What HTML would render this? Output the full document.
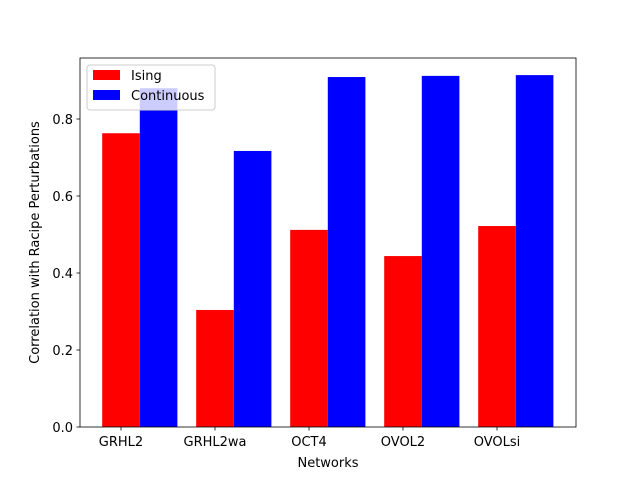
<!DOCTYPE html>
<html><head><meta charset="utf-8"><style>
body{margin:0;background:#fff;}
svg{font-family:"DejaVu Sans","Liberation Sans",sans-serif;}
</style></head><body>
<svg id="chart" width="640" height="480">
<rect x="0" y="0" width="640" height="480" fill="#fff"/>
<g id="bars"></g>
<g id="axes"></g>
</svg>
<script>
const categories=["GRHL2","GRHL2wa","OCT4","OVOL2","OVOLsi"];
const isingValues=[0.763,0.304,0.512,0.444,0.522];
const continuousValues=[0.880,0.717,0.909,0.912,0.914];
const yTicks=[0,0.2,0.4,0.6,0.8];
const yTickLabels=["0.0","0.2","0.4","0.6","0.8"];
const NS="http://www.w3.org/2000/svg";
const L=80,R=576,T=58,B=427;
const xs=v=>121+v*94;
const ys=v=>427-v*385;
function mk(tag,attrs,parent,text){const e=document.createElementNS(NS,tag);for(const k in attrs)e.setAttribute(k,attrs[k]);if(text!==undefined)e.textContent=text;parent.appendChild(e);return e;}
const bars=document.getElementById('bars');
const axes=document.getElementById('axes');
categories.forEach((c,i)=>{
  const w=xs(0.4)-xs(0);
  const r=mk('rect',{x:xs(i-0.2),y:ys(isingValues[i]),width:w,height:ys(0)-ys(isingValues[i]),fill:'#ff0000'},bars);
  
  
  const b=mk('rect',{x:xs(i+0.2),y:ys(continuousValues[i]),width:w,height:ys(0)-ys(continuousValues[i]),fill:'#0000ff'},bars);
  
  
  mk('line',{x1:xs(i),x2:xs(i),y1:B,y2:B+3.5,stroke:'#000','stroke-width':0.8},axes);
  const t=mk('text',{x:xs(i),y:B+19,'text-anchor':'middle','font-size':13},axes,c);
  
  
});
yTicks.forEach((v,i)=>{
  mk('line',{x1:L-3.5,x2:L,y1:ys(v),y2:ys(v),stroke:'#000','stroke-width':0.8},axes);
  const t=mk('text',{x:L-7,y:ys(v)+5,'text-anchor':'end','font-size':13},axes,yTickLabels[i]);
  
  
});
const frame=mk('rect',{x:L,y:T,width:R-L,height:B-T,fill:'none',stroke:'#000','stroke-width':0.8},axes);


const xl=mk('text',{x:(L+R)/2,y:467,'text-anchor':'middle','font-size':13},axes,'Networks');


const yl=mk('text',{x:0,y:0,'text-anchor':'middle','font-size':13,transform:'translate(39,'+((T+B)/2)+') rotate(-90)'},axes,'Correlation with Racipe Perturbations');


const lg=mk('g',{},axes);


mk('rect',{x:87,y:65,width:128,height:45,rx:3,fill:'#fff','fill-opacity':0.8,stroke:'#ccc'},lg);
mk('rect',{x:93,y:70,width:27,height:10,fill:'#ff0000'},lg);
mk('text',{x:131,y:80,'font-size':13},lg,'Ising');
mk('rect',{x:93,y:90,width:27,height:10,fill:'#0000ff'},lg);
mk('text',{x:131,y:100,'font-size':13},lg,'Continuous');
</script>
</body></html>
